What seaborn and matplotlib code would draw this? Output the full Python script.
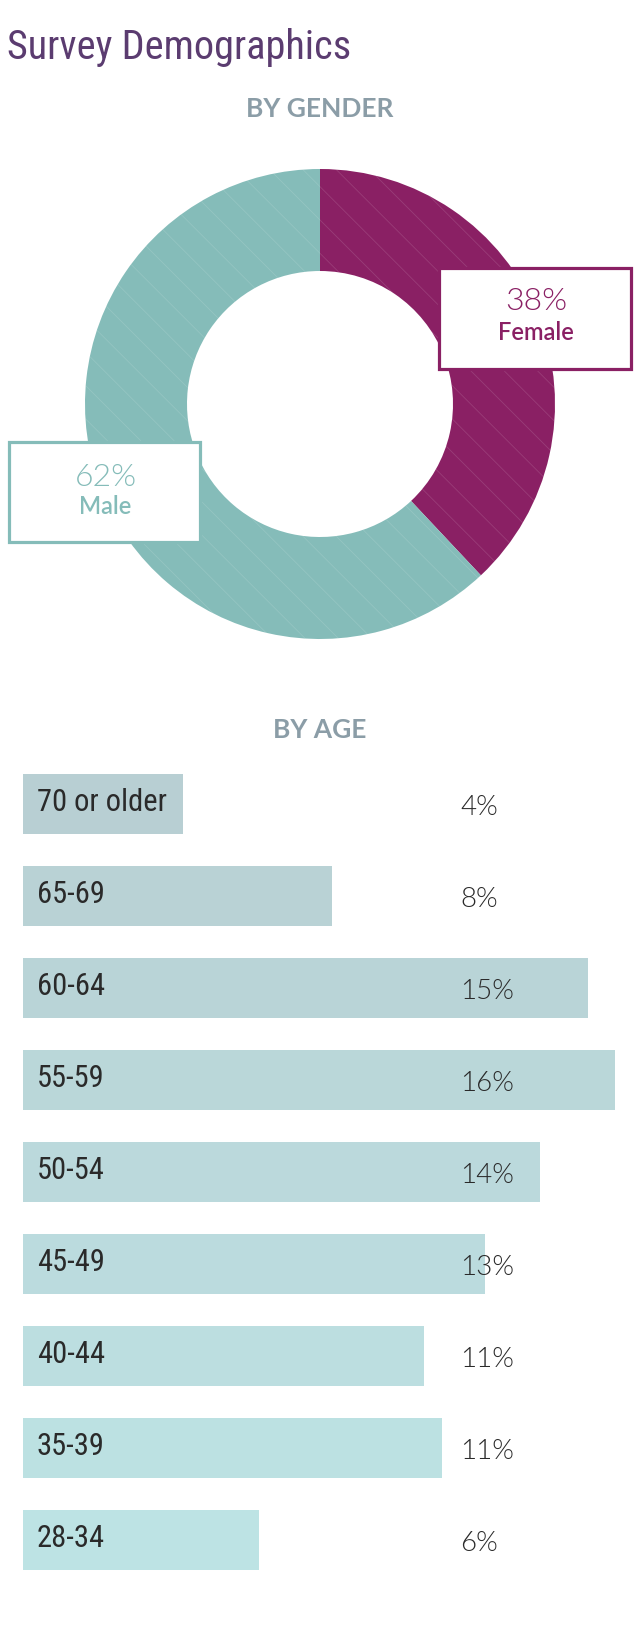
import numpy as np
import pandas as pd
import matplotlib
matplotlib.use("Agg")
import matplotlib.pyplot as plt
import seaborn as sns
from matplotlib import font_manager as fm
from matplotlib.patches import Rectangle
from matplotlib.colors import to_rgb

# ---------------- data ----------------
gender_labels = ["Female", "Male"]
gender_values = [38, 62]
gender_pct_text = ["38%", "62%"]

age_groups = ["70 or older", "65-69", "60-64", "55-59", "50-54",
              "45-49", "40-44", "35-39", "28-34"]
age_bar_values = [4.32, 8.34, 15.25, 15.97, 13.95, 12.47, 10.82, 11.31, 6.37]
age_pct_labels = ["4%", "8%", "15%", "16%", "14%", "13%", "11%", "11%", "6%"]

# ---------------- style ----------------
sns.set_theme(style="white")
W, H = 640, 1652
DPI = 100

entries = fm.fontManager.ttflist
names = {f.name for f in entries}


def pick(cands, default="DejaVu Sans"):
    for c in cands:
        if c in names:
            return c
    return default


cond_family = None
for c in ["Roboto Condensed", "Liberation Sans Narrow", "Open Sans Condensed",
          "Noto Sans Condensed", "DejaVu Sans Condensed"]:
    if c in names:
        cond_family = c
        break
cond_stretch = "normal"
if cond_family is None:
    condensed = [f for f in entries if f.stretch in ("condensed", "semi-condensed", "extra-condensed")]
    if condensed:
        cond_family = condensed[0].name
        cond_stretch = "condensed"
    else:
        cond_family = pick(["Roboto"])

light_family = pick(["Lato", "Open Sans", "Roboto"])
bold_family = pick(["Lato", "Open Sans", "Roboto"])

plt.rcParams["font.family"] = [light_family, "DejaVu Sans"]
plt.rcParams["hatch.linewidth"] = 0.6

TITLE_C = "#5b3c70"
HEAD_C = "#8b9da7"
FEMALE_C = "#8a2064"
MALE_C = "#85bcb9"
TEXT_C = "#2a2a2a"

fig = plt.figure(figsize=(W / DPI, H / DPI), dpi=DPI)
fig.patch.set_facecolor("white")


def fx(x):
    return x / W


def fy(y):
    return 1 - y / H


# ---------------- headings ----------------
fig.text(fx(7), fy(59), "Survey Demographics", ha="left", va="baseline",
         fontsize=29, color=TITLE_C, family=[cond_family, "DejaVu Sans"],
         fontstretch=cond_stretch)
fig.text(fx(320), fy(117), "BY GENDER", ha="center", va="baseline",
         fontsize=19, fontweight="bold", color=HEAD_C, family=[bold_family, "DejaVu Sans"])
fig.text(fx(320), fy(738), "BY AGE", ha="center", va="baseline",
         fontsize=19, fontweight="bold", color=HEAD_C, family=[bold_family, "DejaVu Sans"])

# ---------------- donut ----------------
cx, cy, R = 320, 404, 235
box = 250
ax_pie = fig.add_axes([fx(cx - box), fy(cy + box), 2 * box / W, 2 * box / H])
ring = 1 - 133 / 235
ax_pie.pie(gender_values, colors=[FEMALE_C, MALE_C], startangle=90,
           counterclock=False, radius=1,
           wedgeprops=dict(width=ring, edgecolor="none", linewidth=0))
ax_pie.pie(gender_values, colors=["none", "none"], startangle=90,
           counterclock=False, radius=1,
           wedgeprops=dict(width=ring, fill=False, edgecolor=(1, 1, 1, 0.13),
                           linewidth=0, hatch="\\"))
lim = box / R
ax_pie.set_xlim(-lim, lim)
ax_pie.set_ylim(-lim, lim)
ax_pie.set_aspect("equal")
ax_pie.axis("off")

# label boxes
boxes = [
    dict(x0=439, y0=268, x1=631, y1=369, c=FEMALE_C, t1=302, t2=332),
    dict(x0=9, y0=442, x1=200, y1=542, c=MALE_C, t1=477, t2=506),
]
for b, pct, lab in zip(boxes, gender_pct_text, gender_labels):
    rect = Rectangle((fx(b["x0"]), fy(b["y1"])), (b["x1"] - b["x0"]) / W,
                     (b["y1"] - b["y0"]) / H, transform=fig.transFigure,
                     facecolor="white", edgecolor=b["c"], linewidth=2.3, zorder=5)
    fig.add_artist(rect)
    xc = fx((b["x0"] + b["x1"]) / 2 + 1)
    fig.text(xc, fy(b["t1"]), pct, ha="center", va="center", fontsize=23,
             fontweight=300, color=b["c"], zorder=6,
             family=[light_family, "DejaVu Sans"])
    fig.text(xc, fy(b["t2"]), lab, ha="center", va="center", fontsize=17,
             fontweight="semibold", color=b["c"], zorder=6,
             family=[bold_family, "DejaVu Sans"])

# ---------------- age bars ----------------
x0_px = 23
px_per_unit = 37.06
row_px = 92.0
first_center = 804
n = len(age_groups)
top_px = first_center - row_px / 2
bot_px = top_px + n * row_px
ax_bar = fig.add_axes([fx(x0_px), fy(bot_px), (W - x0_px) / W, n * row_px / H])

c_top = np.array(to_rgb("#b8cfd3"))
c_bot = np.array(to_rgb("#bde3e4"))
palette = [tuple(c_top + (c_bot - c_top) * i / (n - 1)) for i in range(n)]

df = pd.DataFrame({"group": age_groups, "value": age_bar_values})
sns.barplot(data=df, x="value", y="group", hue="group", palette=palette,
            order=age_groups, hue_order=age_groups, legend=False, orient="h",
            width=60 / row_px, linewidth=0, edgecolor="none", saturation=1,
            ax=ax_bar)
ax_bar.set_xlim(0, (W - x0_px) / px_per_unit)
ax_bar.set_ylim(n - 0.5, -0.5)
ax_bar.axis("off")

lab_x = (37 - x0_px) / px_per_unit
pct_x = (460 - x0_px) / px_per_unit
for i, (g, p) in enumerate(zip(age_groups, age_pct_labels)):
    ax_bar.text(lab_x, i - 0.02, g, ha="left", va="center", fontsize=22,
                fontweight="normal", color=TEXT_C,
                family=[cond_family, "DejaVu Sans"], fontstretch=cond_stretch)
    ax_bar.text(pct_x, i + 0.04, p, ha="left", va="center", fontsize=20,
                fontweight=300, color=TEXT_C,
                family=[light_family, "DejaVu Sans"])

fig.savefig("out.png", dpi=DPI, facecolor="white")
